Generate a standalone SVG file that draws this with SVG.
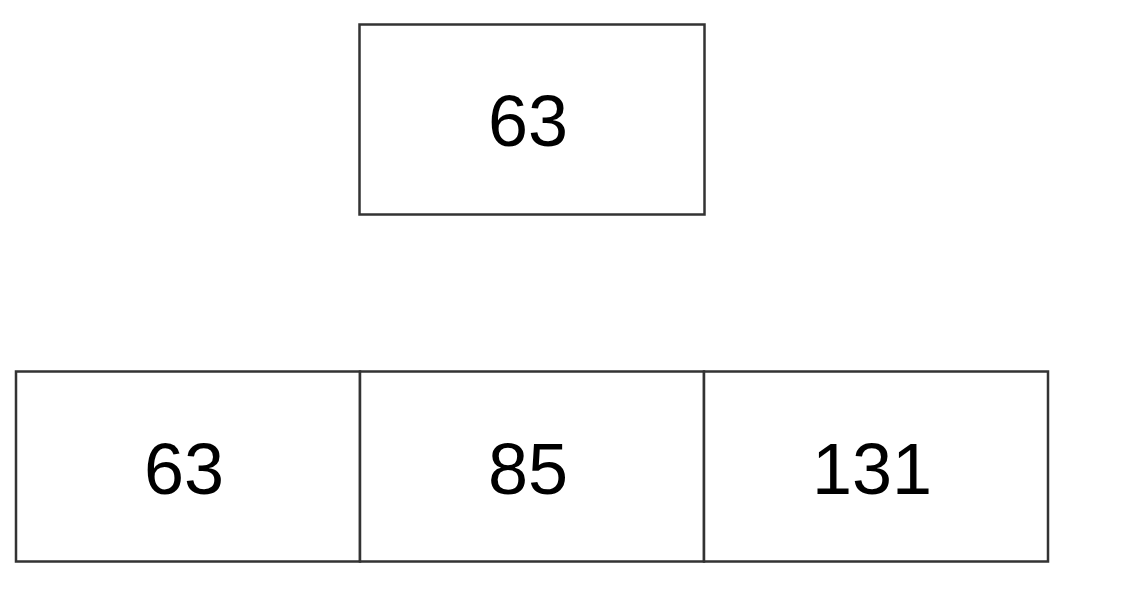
<svg xmlns="http://www.w3.org/2000/svg" width="1126" height="600" viewBox="0 0 1126 600">
<style>
.box{fill:#fff;stroke:#333;stroke-width:2.5}
.lbl{font-family:"Liberation Sans",Arial,sans-serif;font-size:72px;fill:#000;text-anchor:middle}
</style>
<rect width="1126" height="600" fill="#fff"/>
<g id="top">
<rect class="box" x="359.5" y="24.5" width="345" height="190"/>
<text class="lbl" x="528" y="146">63</text>
</g>
<g id="cell1">
<rect class="box" x="16" y="371.5" width="344" height="190"/>
<text class="lbl" x="184" y="494">63</text>
</g>
<g id="cell2">
<rect class="box" x="360" y="371.5" width="344" height="190"/>
<text class="lbl" x="528" y="494">85</text>
</g>
<g id="cell3">
<rect class="box" x="704" y="371.5" width="344" height="190"/>
<text class="lbl" x="872" y="494">131</text>
</g>
<g id="connectors"></g>
</svg>
